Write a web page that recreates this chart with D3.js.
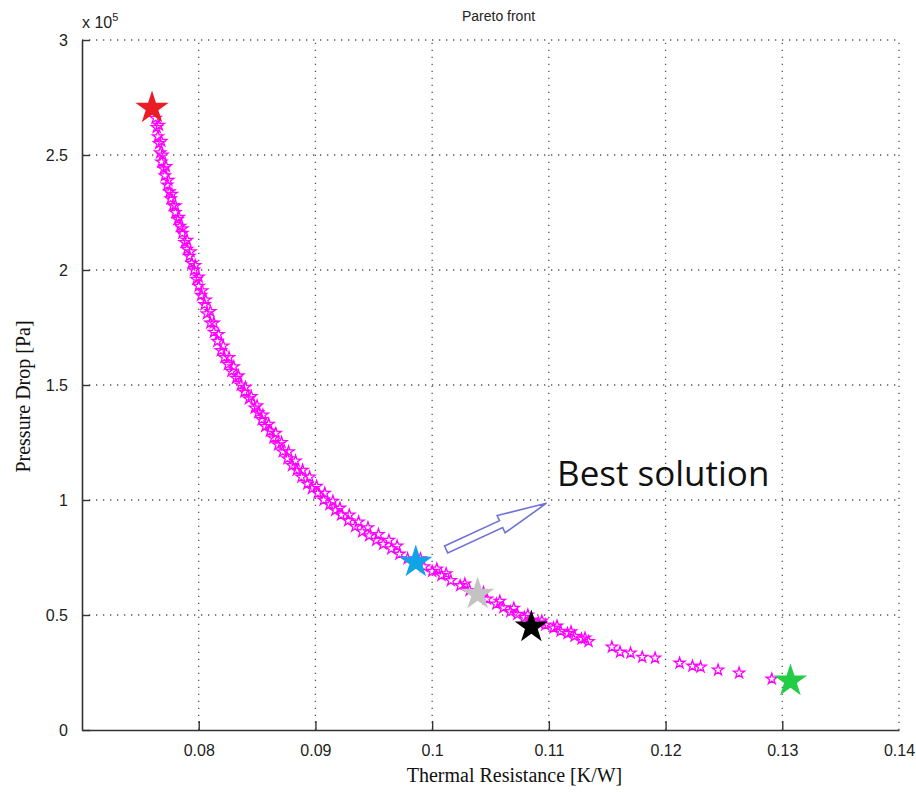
<!DOCTYPE html>
<html lang="en">
<head>
    <meta charset="utf-8">
    <title>Pareto front</title>
    <script src="https://d3js.org/d3.v7.min.js"></script>
    <style>
        body { margin: 0; background: #fff; }
        svg { display: block; }
        .tick-label { font-family: "Liberation Sans", Arial, sans-serif; font-size: 16px; fill: #222; }
        .axis-title { font-family: "Liberation Serif", "Times New Roman", serif; font-size: 20px; fill: #111; }
        .grid line { stroke: #555; stroke-width: 1.3; stroke-dasharray: 1.3 5.7; }
    </style>
</head>
<body>
<svg id="chart" width="916" height="792"></svg>
<script>
    // axis ticks
    const xTicks = [0.08, 0.09, 0.1, 0.11, 0.12, 0.13, 0.14];
    const yTicks = [0, 0.5, 1, 1.5, 2, 2.5, 3];
    const yTickLabels = ["0", "0.5", "1", "1.5", "2", "2.5", "3"];

    // Pareto points: thermal resistance [K/W] and pressure drop [x 1e5 Pa]
    const paretoR = [
        0.0763, 0.0764, 0.0765, 0.0766, 0.0767, 0.0768, 0.0770, 0.0771, 0.0773, 0.0775,
        0.0776, 0.0778, 0.0780, 0.0782, 0.0784, 0.0786, 0.0788, 0.0790, 0.0792, 0.0794,
        0.0796, 0.0798, 0.0800, 0.0802, 0.0805, 0.0807, 0.0810, 0.0813, 0.0816, 0.0819,
        0.0822, 0.0825, 0.0828, 0.0832, 0.0836, 0.0839, 0.0843, 0.0848, 0.0851, 0.0854,
        0.0857, 0.0861, 0.0864, 0.0868, 0.0872, 0.0876, 0.0880, 0.0884, 0.0888, 0.0893,
        0.0897, 0.0902, 0.0907, 0.0912, 0.0917, 0.0922, 0.0928, 0.0934, 0.0940, 0.0946,
        0.0952, 0.0958, 0.0965, 0.0972, 0.0979, 0.0986, 0.0993, 0.1000, 0.1008, 0.1016,
        0.1024, 0.1032, 0.1040, 0.1047, 0.1055, 0.1061, 0.1067, 0.1073, 0.1079, 0.1085,
        0.1091, 0.1097, 0.1104, 0.1110, 0.1116, 0.1122, 0.1128, 0.1134,
        0.1154, 0.1161, 0.1170, 0.1180, 0.1191, 0.1212, 0.1223, 0.1230, 0.1245, 0.1263, 0.1291,
        // second row of the band
        0.0766, 0.0768, 0.0769, 0.0772, 0.0774, 0.0777, 0.0780, 0.0783, 0.0786, 0.0790,
        0.0793, 0.0797, 0.0800, 0.0803, 0.0806, 0.0810, 0.0813, 0.0817, 0.0821, 0.0826,
        0.0830, 0.0834, 0.0840, 0.0845, 0.0850, 0.0855, 0.0860, 0.0866, 0.0871, 0.0877,
        0.0883, 0.0889, 0.0895, 0.0901, 0.0908, 0.0915, 0.0921, 0.0929, 0.0937, 0.0945,
        0.0954, 0.0963, 0.0970, 0.0990, 0.1004, 0.1012, 0.1028, 0.1044, 0.1058, 0.1070,
        0.1082, 0.1094, 0.1107, 0.1119, 0.1131
    ];
    const paretoP = [
        2.66, 2.62, 2.58, 2.55, 2.51, 2.47, 2.44, 2.41, 2.37, 2.34,
        2.31, 2.28, 2.25, 2.22, 2.19, 2.16, 2.12, 2.09, 2.06, 2.03,
        2.00, 1.96, 1.93, 1.89, 1.85, 1.81, 1.77, 1.73, 1.69, 1.65,
        1.62, 1.59, 1.56, 1.53, 1.50, 1.47, 1.44, 1.40, 1.38, 1.35,
        1.32, 1.30, 1.27, 1.24, 1.21, 1.18, 1.15, 1.13, 1.10, 1.07,
        1.05, 1.03, 1.00, 0.98, 0.955, 0.935, 0.91, 0.885, 0.862, 0.845,
        0.825, 0.808, 0.788, 0.765, 0.745, 0.728, 0.71, 0.69, 0.672, 0.65,
        0.628, 0.607, 0.585, 0.57, 0.548, 0.532, 0.515, 0.503, 0.49, 0.478,
        0.467, 0.457, 0.444, 0.43, 0.42, 0.408, 0.396, 0.385,
        0.361, 0.339, 0.335, 0.317, 0.313, 0.291, 0.278, 0.274, 0.261, 0.248, 0.222,
        // second row of the band
        2.63, 2.56, 2.50, 2.45, 2.39, 2.33, 2.28, 2.23, 2.18, 2.13,
        2.08, 2.02, 1.97, 1.91, 1.87, 1.82, 1.77, 1.72, 1.67, 1.62,
        1.58, 1.54, 1.49, 1.45, 1.41, 1.37, 1.33, 1.29, 1.25, 1.21,
        1.17, 1.13, 1.10, 1.06, 1.03, 0.995, 0.965, 0.935, 0.905, 0.88,
        0.85, 0.825, 0.80, 0.745, 0.70, 0.68, 0.635, 0.598, 0.56, 0.53,
        0.50, 0.474, 0.452, 0.427, 0.40
    ];

    // highlighted solutions
    const keyR = [0.0760, 0.0986, 0.1039, 0.1085, 0.1307];
    const keyP = [2.704, 0.730, 0.591, 0.448, 0.213];
    const keyColors = ["#ec1c24", "#10a3e8", "#c3c3c3", "#000000", "#22cc44"];

    // annotation arrow (tail -> tip) and label
    const arrowR = [0.1012, 0.1098];
    const arrowP = [0.785, 0.986];
    const labelR = 0.1107, labelP = 1.06;

    const width = 916, height = 792;
    const margin = { top: 40, right: 17, bottom: 62, left: 82 };

    const svg = d3.select("#chart");

    const x = d3.scaleLinear().domain([0.07, 0.14]).range([margin.left, width - margin.right]);
    const y = d3.scaleLinear().domain([0, 3]).range([height - margin.bottom, margin.top]);

    // dotted grid
    const grid = svg.append("g").attr("class", "grid");
    grid.selectAll(".vx").data(xTicks).enter().append("line")
        .attr("x1", d => x(d)).attr("x2", d => x(d))
        .attr("y1", y(0)).attr("y2", y(3));
    grid.selectAll(".hy").data(yTicks.filter(d => d > 0)).enter().append("line")
        .attr("x1", x(0.07)).attr("x2", x(0.14))
        .attr("y1", d => y(d)).attr("y2", d => y(d));

    // axes with inward ticks
    const xAxis = svg.append("g")
        .attr("transform", `translate(0,${y(0)})`)
        .call(d3.axisBottom(x).tickValues(xTicks).tickSizeInner(-9).tickSizeOuter(0).tickPadding(15)
            .tickFormat(d3.format("~g")));
    const yAxis = svg.append("g")
        .attr("transform", `translate(${x(0.07)},0)`)
        .call(d3.axisLeft(y).tickValues(yTicks).tickSizeInner(-8).tickSizeOuter(0).tickPadding(14)
            .tickFormat((d, i) => yTickLabels[i]));

    [xAxis, yAxis].forEach(a => {
        a.select(".domain").attr("stroke", "#333").attr("stroke-width", 1.6);
        a.selectAll(".tick line").attr("stroke", "#333").attr("stroke-width", 1.4);
        a.selectAll(".tick text").attr("class", "tick-label").attr("fill", "#222");
    });
    // the 0.14 tick sits on the dotted right edge, keep just its label
    xAxis.selectAll(".tick").filter(d => d === 0.14).select("line").remove();

    // exponent label
    const expo = svg.append("text").attr("class", "tick-label")
        .attr("x", x(0.07)).attr("y", margin.top - 12);
    expo.append("tspan").text("x 10");
    expo.append("tspan").attr("dy", -7).style("font-size", "11px").text("5");

    // titles
    svg.append("text")
        .attr("x", (x(0.07) + x(0.14)) / 2 + 8).attr("y", 21)
        .attr("text-anchor", "middle")
        .style("font-family", "Liberation Sans, Arial, sans-serif").style("font-size", "14px")
        .attr("fill", "#222")
        .text("Pareto front");

    svg.append("text").attr("class", "axis-title")
        .attr("x", (x(0.07) + x(0.14)) / 2 + 24).attr("y", height - 10)
        .attr("text-anchor", "middle")
        .text("Thermal Resistance [K/W]");

    svg.append("text").attr("class", "axis-title")
        .attr("transform", `translate(30,${y(1.45)}) rotate(-90)`)
        .attr("text-anchor", "middle")
        .text("Pressure Drop [Pa]");

    // pareto markers
    const smallStar = d3.symbol().type(d3.symbolStar).size(38);
    svg.append("g").selectAll("path")
        .data(paretoR.map((r, i) => [r, paretoP[i]]))
        .enter().append("path")
        .attr("d", smallStar)
        .attr("transform", d => `translate(${x(d[0])},${y(d[1])})`)
        .attr("fill", "none")
        .attr("stroke", "#ff00ff")
        .attr("stroke-width", 1.3);

    // highlighted big stars
    const bigStar = d3.symbol().type(d3.symbolStar).size(345);
    svg.append("g").selectAll("path")
        .data(keyR.map((r, i) => [r, keyP[i], keyColors[i]]))
        .enter().append("path")
        .attr("d", bigStar)
        .attr("transform", d => `translate(${x(d[0])},${y(d[1])})`)
        .attr("fill", d => d[2]);

    // hollow block arrow
    const x0 = x(arrowR[0]), y0 = y(arrowP[0]), x1 = x(arrowR[1]), y1 = y(arrowP[1]);
    const len = Math.hypot(x1 - x0, y1 - y0);
    const ang = Math.atan2(y1 - y0, x1 - x0) * 180 / Math.PI;
    const shaftW = 3.8, headW = 9.5, headL = 50;
    const arrowPts = [
        [0, -shaftW], [len - headL, -shaftW], [len - headL, -headW], [len, 0],
        [len - headL, headW], [len - headL, shaftW], [0, shaftW]
    ];
    svg.append("path")
        .attr("d", d3.line()(arrowPts) + "Z")
        .attr("transform", `translate(${x0},${y0}) rotate(${ang})`)
        .attr("fill", "#fff")
        .attr("stroke", "#6f73d6")
        .attr("stroke-width", 1.6)
        .attr("stroke-linejoin", "miter");

    svg.append("text")
        .attr("x", x(labelR)).attr("y", y(labelP))
        .style("font-family", "Open Sans, Noto Sans, sans-serif").style("font-size", "35px")
        .attr("fill", "#111")
        .text("Best solution");
</script>
</body>
</html>
